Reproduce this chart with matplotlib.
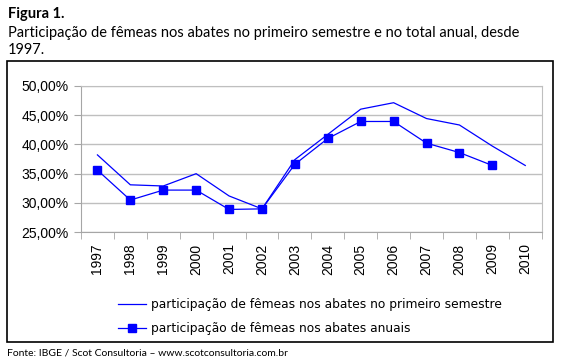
import matplotlib
matplotlib.use("Agg")
import matplotlib.pyplot as plt
from matplotlib.patches import Rectangle
from matplotlib.ticker import FixedLocator, FuncFormatter

# ---------------------------------------------------------------------------
# Data
# ---------------------------------------------------------------------------
YEARS = ["1997", "1998", "1999", "2000", "2001", "2002", "2003",
         "2004", "2005", "2006", "2007", "2008", "2009", "2010"]
SEMESTRE = [38.2, 33.1, 32.9, 35.0, 31.2, 29.0, 37.4,
            41.7, 46.0, 47.1, 44.4, 43.3, 39.7, 36.4]
ANUAL = [35.6, 30.5, 32.2, 32.2, 28.9, 29.0, 36.6,
         41.0, 43.9, 43.9, 40.2, 38.6, 36.4]
Y_TICKS = [25, 30, 35, 40, 45, 50]

TITLE_BOLD = "Figura 1."
TITLE_LINES = ["Participação de fêmeas nos abates no primeiro semestre e no total anual, desde",
               "1997."]
LABEL_SEM = "participação de fêmeas nos abates no primeiro semestre"
LABEL_ANU = "participação de fêmeas nos abates anuais"
SOURCE = "Fonte: IBGE / Scot Consultoria – www.scotconsultoria.com.br"

BLUE = "#0000FF"
GRID = "#BFBFBF"
AXIS = "#A6A6A6"

fig = plt.figure(figsize=(5.62, 3.63), dpi=100)

# outer frame around the chart
fig.patches.append(Rectangle((0.0133, 0.0587), 0.970, 0.7733,
                             transform=fig.transFigure, fill=False,
                             edgecolor="black", linewidth=1.2))

ax = fig.add_axes([0.1441, 0.360, 0.8198, 0.4039])
x = list(range(len(YEARS)))
ax.plot(x, SEMESTRE, color=BLUE, linewidth=0.9, label=LABEL_SEM)
ax.plot(x[:len(ANUAL)], ANUAL, color=BLUE, linewidth=0.9, marker="s",
        markersize=5.6, label=LABEL_ANU)

ax.set_xlim(-0.5, len(YEARS) - 0.5)
ax.set_ylim(25, 50)
ax.set_yticks(Y_TICKS)
ax.yaxis.set_major_formatter(FuncFormatter(lambda v, p: f"{v:.2f}%".replace(".", ",")))
ax.set_xticks(x)
ax.set_xticklabels(YEARS, rotation=90, fontsize=10, family="Liberation Sans")
ax.xaxis.set_minor_locator(FixedLocator([i - 0.5 for i in range(len(YEARS) + 1)]))
ax.tick_params(axis="x", which="major", length=0, pad=8)
ax.tick_params(axis="x", which="minor", length=5, color=AXIS, direction="out")
ax.tick_params(axis="y", length=5, color=AXIS, pad=4, labelsize=10)
for lbl in ax.get_yticklabels():
    lbl.set_family("Liberation Sans")
ax.grid(axis="y", color=GRID, linewidth=1)
ax.set_axisbelow(True)
for side in ("top", "right"):
    ax.spines[side].set_color(GRID)
for side in ("left", "bottom"):
    ax.spines[side].set_color(AXIS)

ax.legend(loc="upper left", bbox_to_anchor=(0.069, -0.417), frameon=False,
          handlelength=2.3, handletextpad=0.4, labelspacing=0.9,
          prop={"family": "DejaVu Sans", "size": 8.8}, borderaxespad=0)

fig.text(0.0142, 0.950, TITLE_BOLD, fontsize=10.5, fontweight="bold",
         family="Lato", va="baseline")
fig.text(0.0142, 0.898, TITLE_LINES[0], fontsize=10.5, family="Lato", va="baseline")
fig.text(0.0142, 0.851, TITLE_LINES[1], fontsize=10.5, family="Lato", va="baseline")
fig.text(0.0125, 0.021, SOURCE, fontsize=7.5, family="Lato", va="baseline")

fig.savefig("out.png", dpi=100)
